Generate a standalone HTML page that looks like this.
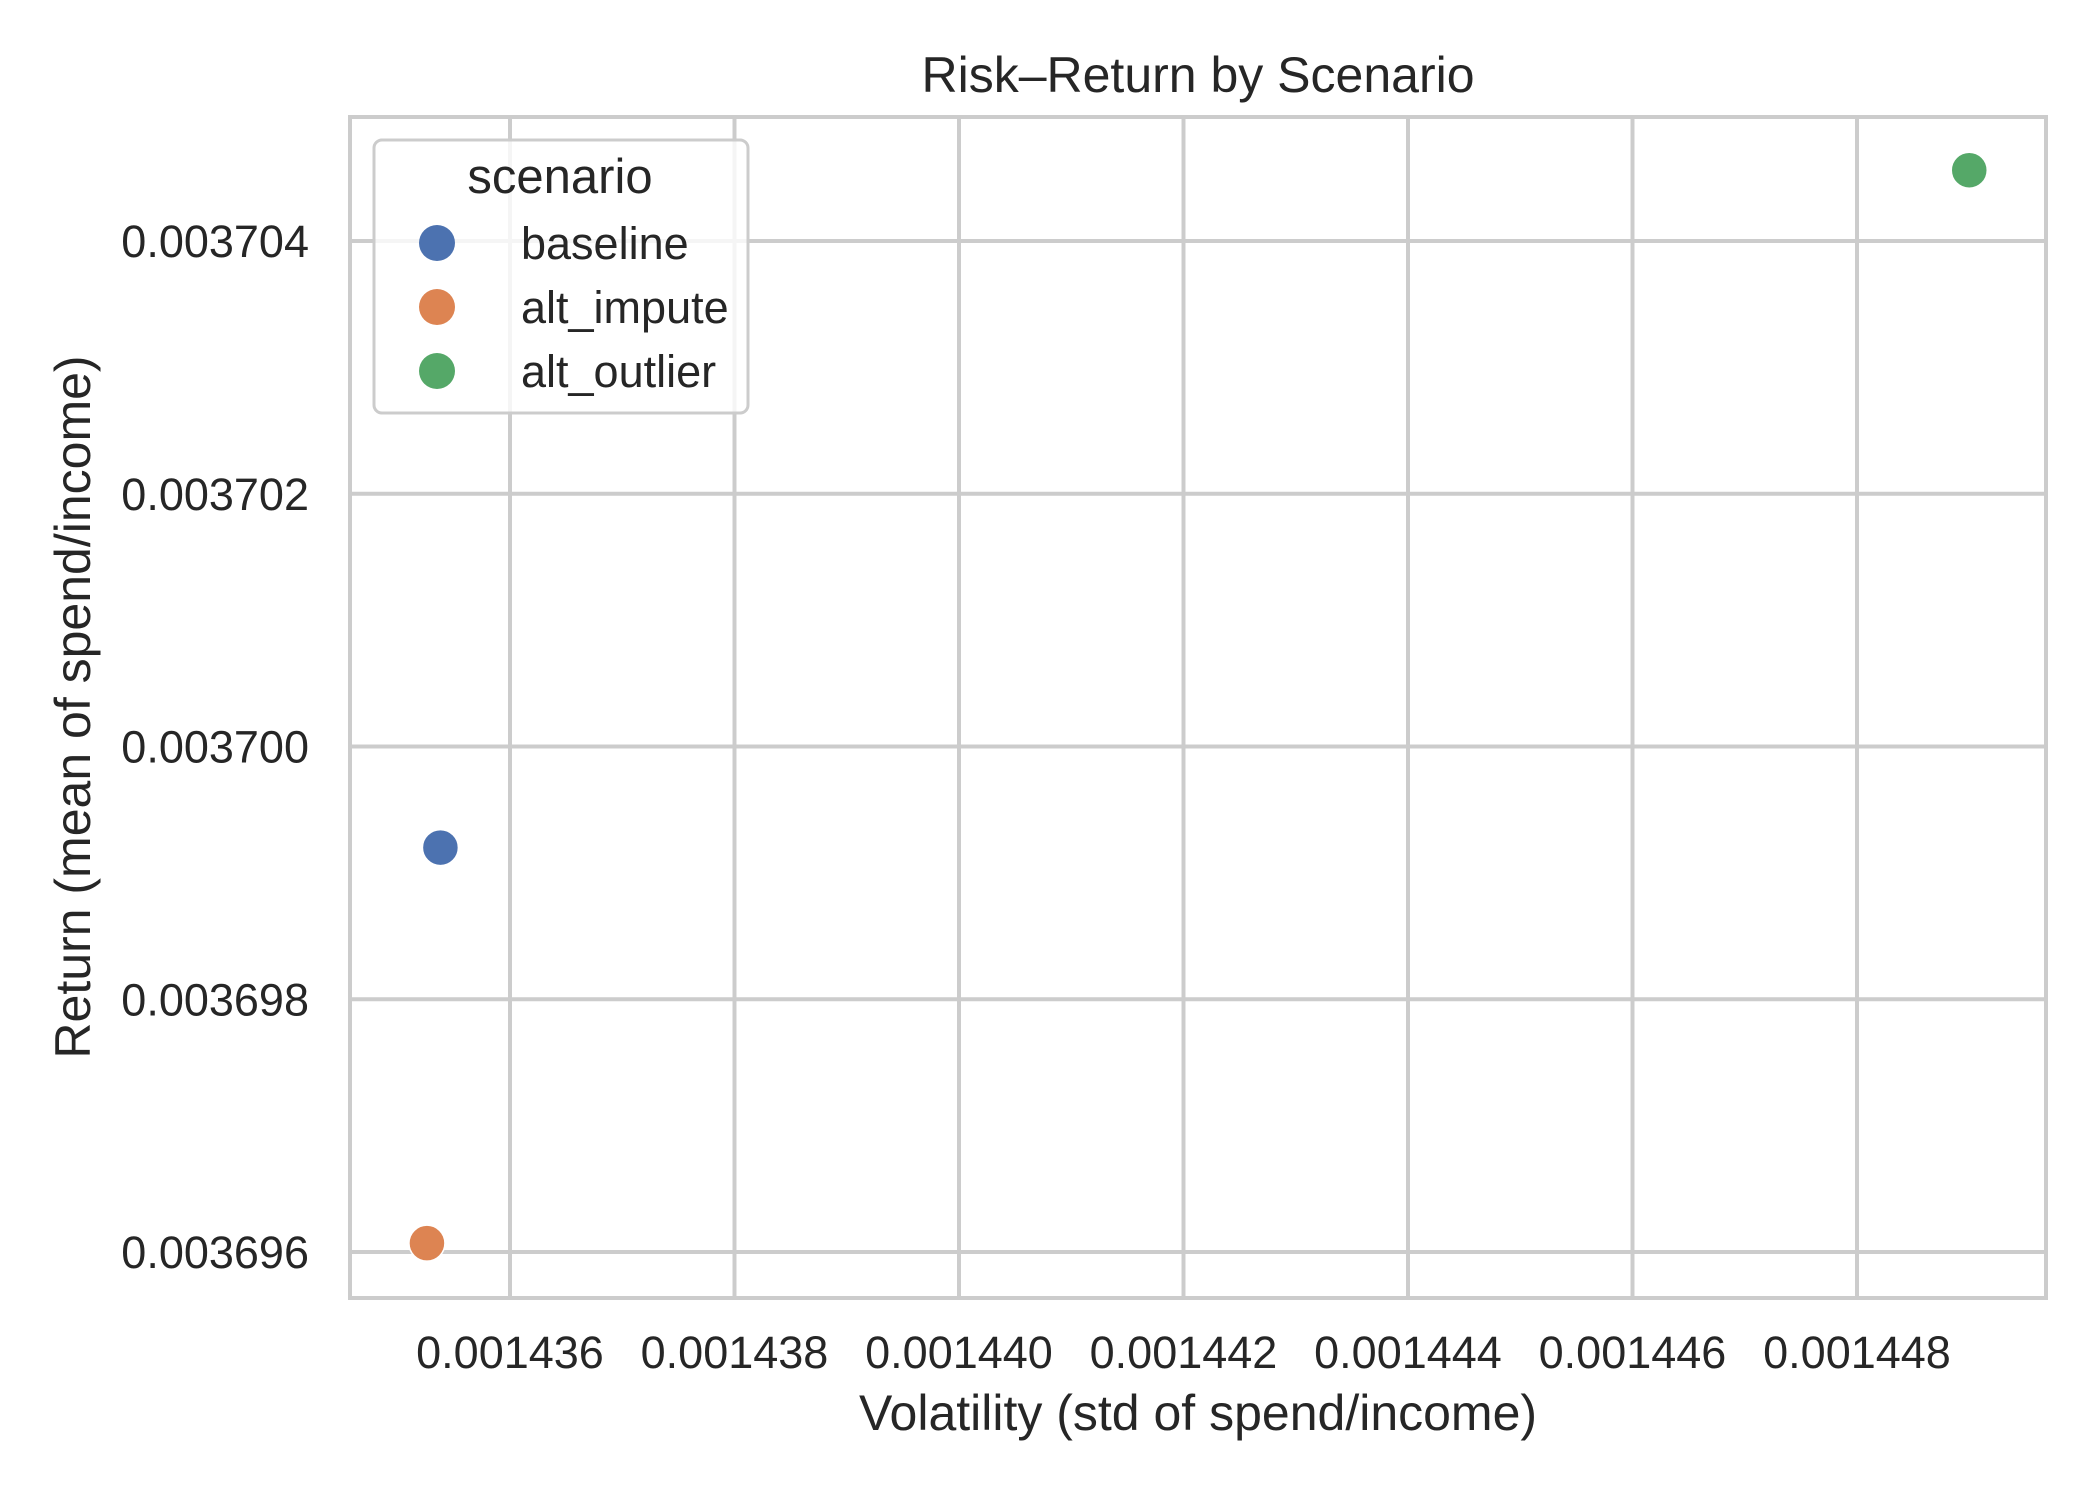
<!DOCTYPE html>
<html><head><meta charset="utf-8">
<style>
html,body{margin:0;padding:0;background:#fff;}
svg{display:block;font-family:"Liberation Sans",Arial,sans-serif;}
</style></head>
<body>
<svg id="chart" width="2100" height="1500" viewBox="0 0 2100 1500" xmlns="http://www.w3.org/2000/svg">
<rect x="0" y="0" width="2100" height="1500" fill="#fff"/>
<g id="grid"></g>
<g id="xticks"></g>
<g id="yticks"></g>
<g id="points"></g>
<rect x="350" y="117" width="1696" height="1181" fill="none" stroke="#cccccc" stroke-width="4"/>
<text x="1198" y="92" font-size="50" text-anchor="middle" fill="#262626">Risk–Return by Scenario</text>
<text x="1198" y="1430" font-size="50" text-anchor="middle" fill="#262626">Volatility (std of spend/income)</text>
<text x="0" y="0" transform="translate(90,707) rotate(-90)" font-size="50" text-anchor="middle" fill="#262626">Return (mean of spend/income)</text>
<g id="legend">
<rect x="374" y="140" width="374" height="273" rx="8" fill="#fff" fill-opacity="0.8" stroke="#cccccc" stroke-width="3"/>
<text x="560" y="193" font-size="49" text-anchor="middle" fill="#262626">scenario</text>
</g>
</svg>
<script>
const scenarios = ["baseline", "alt_impute", "alt_outlier"];
const volatility = [0.00143538, 0.00143526, 0.00144900];
const meanReturn = [0.0036992, 0.00369607, 0.00370456];
const colors = ["#4c72b0", "#dd8452", "#55a868"];
const xTickValues = [0.001436, 0.001438, 0.001440, 0.001442, 0.001444, 0.001446, 0.001448];
const xTickLabels = ["0.001436", "0.001438", "0.001440", "0.001442", "0.001444", "0.001446", "0.001448"];
const yTickValues = [0.003696, 0.003698, 0.003700, 0.003702, 0.003704];
const yTickLabels = ["0.003696", "0.003698", "0.003700", "0.003702", "0.003704"];

const NS = "http://www.w3.org/2000/svg";
const L = 350, R = 2046, T = 117, B = 1298;
function xScale(v){ return 510 + (v - 0.001436) / 0.000002 * 224.5; }
function yScale(v){ return 1252 - (v - 0.003696) / 0.000002 * 252.75; }
function mk(tag, attrs, parent){
  const e = document.createElementNS(NS, tag);
  for (const k in attrs) e.setAttribute(k, attrs[k]);
  parent.appendChild(e);
  return e;
}
const grid = document.getElementById('grid');
const xt = document.getElementById('xticks');
const yt = document.getElementById('yticks');
xTickValues.forEach((v, i) => {
  const x = xScale(v);
  const ln = mk('line', {x1:x, x2:x, y1:T, y2:B, stroke:'#cccccc', 'stroke-width':4}, grid);
  
  
  const t = mk('text', {x:x, y:1368, 'font-size':45, 'text-anchor':'middle', fill:'#262626'}, xt);
  
  
  t.textContent = xTickLabels[i];
});
yTickValues.forEach((v, i) => {
  const y = yScale(v);
  const ln = mk('line', {x1:L, x2:R, y1:y, y2:y, stroke:'#cccccc', 'stroke-width':4}, grid);
  
  
  const t = mk('text', {x:309, y:y + 16, 'font-size':45, 'text-anchor':'end', fill:'#262626'}, yt);
  
  
  t.textContent = yTickLabels[i];
});
const pts = document.getElementById('points');
scenarios.forEach((s, i) => {
  const c = mk('circle', {cx:xScale(volatility[i]), cy:yScale(meanReturn[i]), r:18, fill:colors[i], stroke:'#fff', 'stroke-width':1.5}, pts);
  
  
});
const leg = document.getElementById('legend');
scenarios.forEach((s, i) => {
  const y = 243 + i * 64;
  const c = mk('circle', {cx:437, cy:y, r:18, fill:colors[i]}, leg);
  
  
  const t = mk('text', {x:521, y:y + 16, 'font-size':45, fill:'#262626'}, leg);
  
  
  t.textContent = s;
});
</script>
</body></html>
